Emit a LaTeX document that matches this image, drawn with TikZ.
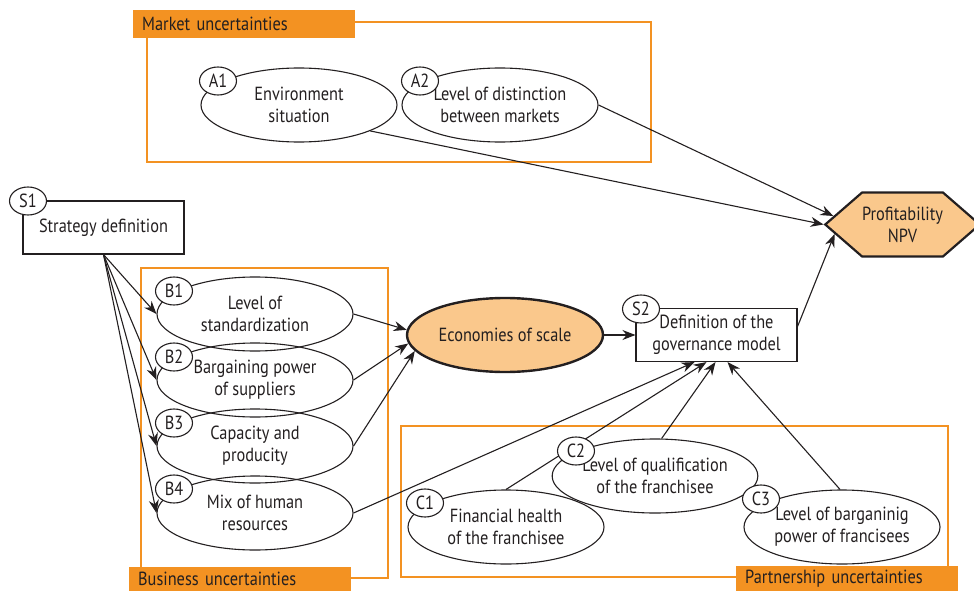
\documentclass[tikz,border=0pt]{standalone}
\usepackage{fontspec}
\setmainfont{PT Sans}[FakeStretch=0.86]
\usepackage{xcolor}
\usetikzlibrary{
    shapes.geometric,
    shapes.symbols,
    arrows.meta
}
\definecolor{uncorange}{RGB}{243,146,34}
\definecolor{scaleorange}{RGB}{250,200,140}
\definecolor{inkgray}{RGB}{35,31,32}

\begin{document}
\begin{tikzpicture}[
        x=1pt, y=-1pt,
        font=\fontsize{19}{22}\selectfont, text=inkgray,
        oval/.style={ellipse, draw=inkgray, line width=1.1pt, minimum width=196pt, minimum height=74pt, inner sep=0pt, align=center},
        tag/.style={ellipse, draw=inkgray, fill=white, line width=1.1pt, minimum width=37pt, minimum height=28pt, inner sep=0pt},
        box/.style={rectangle, draw=inkgray, line width=1.1pt, minimum width=161pt, minimum height=53pt, inner sep=0pt, align=center},
        group/.style={draw=uncorange, line width=2.6pt},
        banner/.style={fill=uncorange, anchor=north west, text width=204pt, inner xsep=9pt, inner ysep=0pt, align=left},
        arrow/.style={-{Stealth[length=13pt, width=10pt]}, line width=1.1pt, draw=inkgray}
    ]
        \useasboundingbox (0,0) rectangle (974,591);

        % Uncertainty groups
        \draw[group] (147,22) rectangle (651,162);
        \draw[group] (141,268) rectangle (388,578);
        \draw[group] (401,426) rectangle (948,577);
        \node[banner, minimum height=28pt] (mktlbl) at (133,10) {Market uncertainties};
        \node[banner, minimum height=24pt] (buslbl) at (129,567) {Business uncertainties};
        \node[banner, minimum height=25pt] (prtlbl) at (736,566) {Partnership uncertainties};

        % Market
        \node[oval] (A1) at (299,105) {Environment\\situation};
        \node[oval] (A2) at (500,105) {Level of distinction\\between markets};

        % Strategy and outcome
        \node[box] (S1) at (103.5,227.5) {Strategy definition};
        \node[signal, signal to=west and east, signal pointer angle=82, draw=inkgray, line width=2.2pt,
              fill=scaleorange, minimum width=149pt, minimum height=64pt, inner sep=0pt, align=center]
              (npv) at (902.5,224.5) {Profitability\\NPV};

        % Business
        \node[oval] (B1) at (255,314) {Level of\\standardization};
        \node[oval] (B2) at (255,380) {Bargaining power\\of suppliers};
        \node[oval] (B3) at (255,446) {Capacity and\\producity};
        \node[oval] (B4) at (255,513) {Mix of human\\resources};
        \node[oval, fill=scaleorange, line width=2.4pt] (eos) at (505,335) {Economies of scale};
        \node[box] (S2) at (716.5,335) {Definition of the\\governance model};

        % Partnership
        \node[oval] (C1) at (506,527) {Financial health\\of the franchisee};
        \node[oval] (C2) at (655,476) {Level of qualification\\of the franchisee};
        \node[oval] (C3) at (842,527) {Level of barganinig\\power of francisees};

        % Arrows
        \draw[arrow] (A1.-20) -- (npv.west);
        \draw[arrow] (A2.east) -- (npv.173);
        \draw[arrow] (S2.6) -- (npv.188);
        \draw[arrow] (S1.south) -- (B1.west);
        \draw[arrow] (S1.south) -- (B2.west);
        \draw[arrow] (S1.south) -- (B3.west);
        \draw[arrow] (S1.south) -- (B4.west);
        \draw[arrow] (B1.east) -- (eos.177);
        \draw[arrow] (B2.east) -- (eos.185);
        \draw[arrow] (B3.east) -- (eos.190);
        \draw[arrow] (eos.east) -- (S2.west);
        \draw[arrow] (B4.east) -- ([xshift=-22pt]S2.south);
        \draw[arrow] (C1.north) -- ([xshift=-10pt]S2.south);
        \draw[arrow] (C2.80) -- ([xshift=-1pt]S2.south);
        \draw[arrow] (C3.93) -- ([xshift=11pt]S2.south);

        % Tags
        \node[tag] (A1t) at (218,81) {A1};
        \node[tag] (A2t) at (420,81) {A2};
        \node[tag] (S1t) at (28,201) {S1};
        \node[tag] (B1t) at (174,291) {B1};
        \node[tag] (B2t) at (174,357) {B2};
        \node[tag] (B3t) at (174,423) {B3};
        \node[tag] (B4t) at (174,489) {B4};
        \node[tag] (S2t) at (641,309) {S2};
        \node[tag] (C1t) at (425,503) {C1};
        \node[tag] (C2t) at (576,451) {C2};
        \node[tag] (C3t) at (761,499) {C3};
    \end{tikzpicture}
\end{document}
